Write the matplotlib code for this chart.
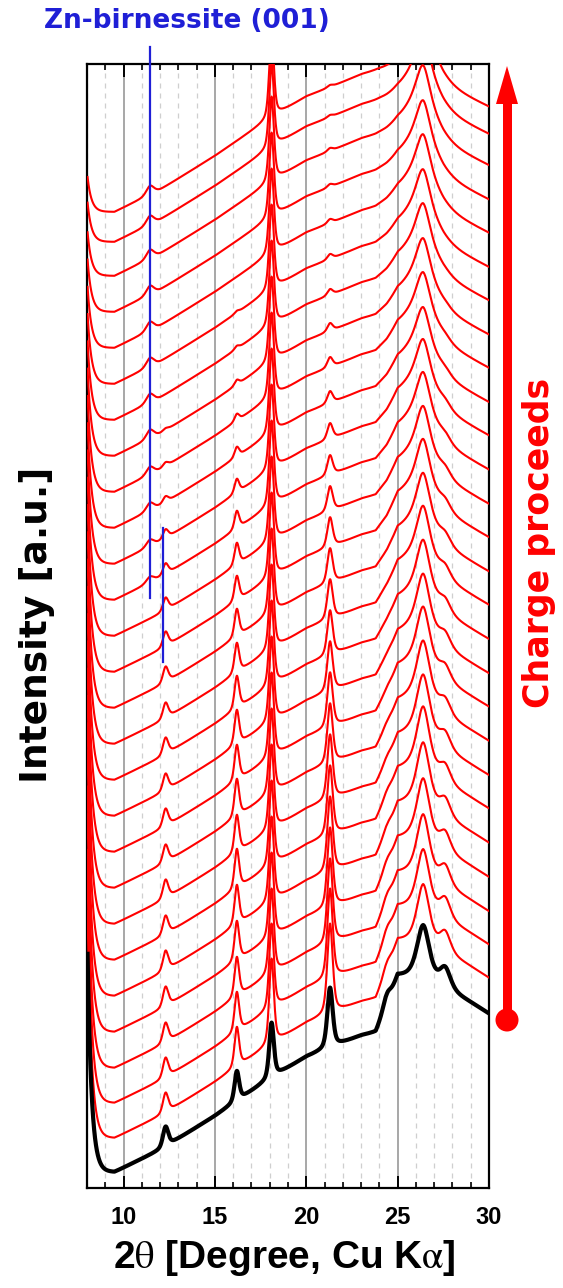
import numpy as np
import matplotlib
matplotlib.use("Agg")
import matplotlib.pyplot as plt
from matplotlib.patches import Circle, Polygon, Rectangle

plt.rcParams['mathtext.fontset'] = 'stix'

# ---------------- data ----------------
# curve 0 = pristine (black), curves 1..27 = charge steps (red), bottom -> top
offsets = [16, 50, 85, 120, 156, 192, 228, 264, 300, 336, 372, 408, 444, 480,
           516, 552, 588, 624, 660, 696, 732, 768, 804, 840, 876, 912, 946, 976]

# common background rise (relative to the minimum near 9.5 deg)
bg_x = [8.0, 9.5, 12.0, 15.0, 18.0, 20.0, 23.0, 24.0, 25.0, 26.4, 27.5, 30.0]
bg_y = [0, 0, 22, 56, 93, 115, 136, 140, 141, 136, 124, 104]

# broad amorphous hump (shape) and its amplitude per curve
hump_x = [23.8, 24.4, 25.0, 26.4, 27.5, 29.0, 30.0]
hump_s = [0.0, 0.35, 0.9, 1.0, 1.0, 0.95, 0.9]
hump_amp = [60, 62, 60, 58, 56, 54, 52, 49, 47, 45, 42, 40, 38, 35, 33, 30,
            28, 26, 23, 21, 18, 16, 13, 11, 8, 6, 3, 0]

# low-angle rise amplitude at 8 deg
low_amp = [250, 260, 260, 250, 250, 240, 240, 230, 220, 210, 200, 190, 180,
           170, 160, 150, 140, 130, 120, 110, 100, 90, 80, 70, 60, 50, 45, 40]

# Bragg peaks: position, FWHM, heights per curve
peak_pos = [11.45, 12.3, 16.2, 18.1, 21.3, 24.4, 26.4, 26.3, 27.6]
peak_fwhm = [0.5, 0.35, 0.3, 0.3, 0.35, 0.5, 0.8, 2.0, 0.7]
h_znb = [0]*16 + [6, 7, 8, 8, 9, 9, 9, 9, 9, 9, 9, 9]
h_123 = [20, 20, 20, 20, 20, 20, 19, 19, 18, 18, 17, 17, 16, 16, 15, 13, 11,
         9, 6, 4, 2, 0, 0, 0, 0, 0, 0, 0]
h_162 = [30, 40, 40, 40, 40, 40, 40, 38, 38, 36, 35, 33, 30, 28, 25, 22, 18,
         14, 10, 7, 5, 3, 2, 0, 0, 0, 0, 0]
h_181 = [55, 85, 85, 85, 85, 85, 85, 85, 85, 85, 85, 85, 85, 85, 85, 85, 85,
         85, 85, 85, 85, 85, 85, 85, 85, 85, 85, 85]
h_213 = [60, 90, 90, 85, 80, 75, 70, 65, 60, 55, 50, 45, 40, 35, 30, 25, 20,
         16, 12, 10, 8, 6, 5, 4, 3, 3, 2, 2]
h_244 = [15, 12, 12, 11, 10, 9, 8, 7, 6, 5, 4, 3, 2, 1, 0, 0, 0, 0, 0, 0, 0,
         0, 0, 0, 0, 0, 0, 0]
h_264 = [50, 55, 55, 55, 55, 55, 55, 52, 50, 48, 46, 44, 42, 40, 38, 36, 34,
         32, 30, 30, 30, 30, 30, 30, 30, 30, 30, 30]
h_264b = [0, 0, 2, 4, 6, 8, 10, 12, 14, 16, 18, 20, 22, 24, 26, 28, 30, 31,
          32, 33, 34, 35, 36, 37, 38, 39, 40, 40]
h_276 = [20, 20, 20, 19, 18, 17, 16, 15, 14, 13, 12, 11, 10, 9, 8, 7, 6, 5,
         4, 3, 2, 1, 0, 0, 0, 0, 0, 0]
peak_heights = [h_znb, h_123, h_162, h_181, h_213, h_244, h_264, h_264b, h_276]

xticks = [10, 15, 20, 25, 30]

# ---------------- figure ----------------
W, H = 563, 1288
FONT = 'Liberation Sans'
WIDE = 'DejaVu Sans'
fig = plt.figure(figsize=(W/100, H/100), dpi=100)
ax = fig.add_axes([87/W, 1-1188/H, (489-87)/W, (1188-64)/H])

x = np.linspace(8.03, 30.0, 3000)


def pv(xx, c, fwhm, h):
    g = np.exp(-4*np.log(2)*((xx-c)/fwhm)**2)
    lor = 1.0/(1.0+((xx-c)/(fwhm/2))**2)
    return h*(0.5*g+0.5*lor)


n = len(offsets)
for i in range(n-1, -1, -1):
    y = offsets[i] + np.interp(x, bg_x, bg_y)
    y = y + hump_amp[i]*np.interp(x, hump_x, hump_s, left=0.0)
    y = y + low_amp[i]*np.exp(-(x-8.0)/0.22)
    for c, f, hs in zip(peak_pos, peak_fwhm, peak_heights):
        y = y + pv(x, c, f, hs[i])
    if i == 0:
        ax.plot(x, y, color='black', lw=3.0, zorder=4)
    else:
        ax.plot(x, y, color='#ff0000', lw=1.5, zorder=3)

ax.set_xlim(8, 30)
ax.set_ylim(0, 1124)
ax.set_yticks([])
ax.set_xticks(xticks)
ax.set_xticks(np.arange(8, 31, 1), minor=True)
ax.set_xticklabels([str(t) for t in xticks], fontsize=17, fontweight='bold',
                   family=FONT)
ax.tick_params(axis='x', which='major', direction='in', length=9, width=1.4,
               top=True, bottom=True, pad=13)
ax.tick_params(axis='x', which='minor', direction='in', length=4.5, width=1.2,
               top=True, bottom=True)
ax.set_axisbelow(True)
ax.grid(which='major', axis='x', color='#a0a0a0', lw=1.3)
ax.grid(which='minor', axis='x', color='#cfcfcf', lw=0.9, ls=(0, (4, 4)))
for s in ax.spines.values():
    s.set_linewidth(1.6)

fig.text(284/W, 1-1258/H, r'2$\mathrm{\theta}$ [Degree, Cu K$\mathrm{\alpha}$]',
         fontsize=28, fontweight='bold', family=FONT, ha='center', va='center')
fig.text(37/W, 1-625/H, 'Intensity [a.u.]', fontsize=27, fontweight='bold',
         family=WIDE, rotation=90, ha='center', va='center')

# Zn-birnessite markers
blue = '#1f1fd6'
ax.plot([11.45, 11.45], [1141, 590], color=blue, lw=1.6, clip_on=False, zorder=5)
ax.plot([12.14, 12.14], [660, 526], color=blue, lw=1.6, clip_on=False, zorder=5)
fig.text(187/W, 1-21/H, 'Zn-birnessite (001)', color=blue, fontsize=19,
         fontweight='bold', family=WIDE, ha='center', va='center')

# Charge arrow (overlay in pixel coordinates)
ov = fig.add_axes([0, 0, 1, 1], facecolor='none')
ov.set_xlim(0, W)
ov.set_ylim(H, 0)
ov.axis('off')
red = '#ff0000'
ov.add_patch(Rectangle((502.5, 100), 9, 920, color=red, lw=0))
ov.add_patch(Polygon([[496, 104], [518, 104], [507, 66]], closed=True,
                     color=red, lw=0))
ov.add_patch(Circle((507, 1020), 11.5, color=red, lw=0))
ov.text(539, 543, 'Charge proceeds', color=red, fontsize=25,
        fontweight='bold', family=WIDE, rotation=90,
        ha='center', va='center')

fig.savefig('out.png', dpi=100)
